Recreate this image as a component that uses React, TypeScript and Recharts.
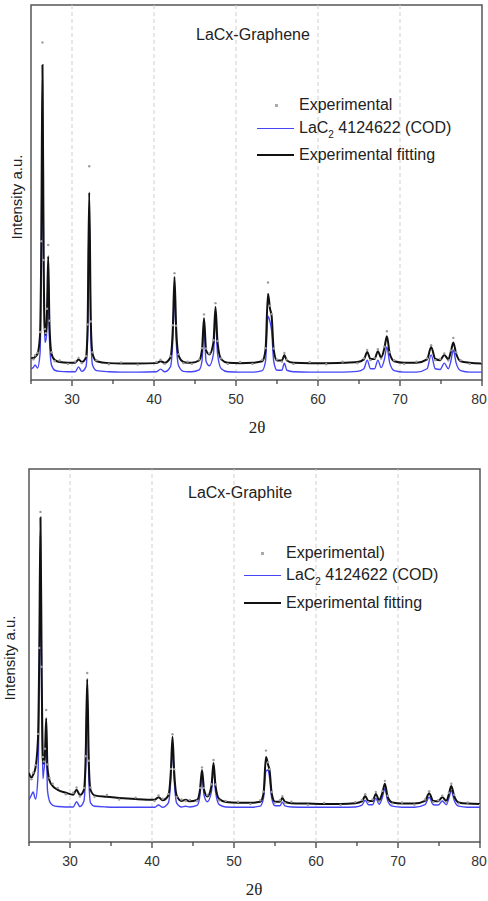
import React from "react";
import { ComposedChart, Line, Scatter, XAxis, YAxis, ReferenceLine, ReferenceArea } from "recharts";

// 2θ sampling shared by both patterns (degrees)
const theta = [
  25.0, 25.3, 25.5, 25.8, 26.1, 26.25, 26.4, 26.55, 26.7, 26.8,
  26.95, 27.1, 27.25, 27.5, 27.9, 28.5, 29.5, 30.4, 30.8, 31.2,
  31.7, 31.9, 32.1, 32.3, 32.5, 33.0, 34.5, 36.0, 38.0, 40.3,
  40.8, 41.3, 42.0, 42.3, 42.5, 42.7, 43.0, 43.6, 44.1, 44.6,
  45.5, 45.85, 46.1, 46.35, 46.75, 47.25, 47.5, 47.75, 48.2, 49.0,
  50.5, 52.0, 53.2, 53.6, 53.9, 54.15, 54.35, 54.6, 55.0, 55.6,
  55.9, 56.2, 57.0, 59.0, 61.0, 63.0, 64.8, 65.6, 66.0, 66.4,
  66.9, 67.3, 67.7, 68.1, 68.4, 68.75, 69.3, 70.5, 72.0, 73.3,
  73.8, 74.3, 74.9, 75.4, 75.9, 76.2, 76.5, 76.85, 77.4, 78.5, 80.0,
];

// LaCx-Graphene
const grapheneFit = [
  6.0, 5.8, 6.2, 7.0, 12, 35, 84, 30, 13, 12,
  18, 33, 15, 7.0, 5.3, 4.8, 4.6, 4.6, 5.5, 4.8,
  6.0, 14, 50, 15, 7.0, 5.0, 4.5, 4.4, 4.4, 4.5,
  5.0, 4.6, 6.0, 14, 27.5, 14, 6.5, 4.8, 4.6, 4.6,
  5.2, 8.0, 16.5, 8.0, 6.8, 10, 19.5, 10, 5.5, 4.6,
  4.5, 4.6, 5.0, 8.0, 23, 19, 17, 8.0, 5.2, 5.2,
  6.7, 5.2, 4.6, 4.5, 4.5, 4.6, 4.8, 5.5, 7.5, 5.6,
  5.6, 7.7, 6.0, 8.5, 11.7, 7.0, 5.0, 4.6, 4.6, 5.5,
  8.8, 5.6, 5.3, 6.7, 5.5, 7.5, 10, 7.0, 5.0, 4.6, 4.4,
];
const grapheneRef = [
  3.0, 3.4, 4.0, 3.2, 7.0, 30, 80, 25, 10, 10.5,
  14, 29, 11, 4.0, 2.6, 2.3, 2.2, 2.2, 3.5, 2.3,
  3.5, 11, 46, 12, 4.0, 2.5, 2.2, 2.1, 2.1, 2.2,
  2.9, 2.2, 3.5, 11, 24, 11, 3.8, 2.3, 2.2, 2.2,
  2.7, 5.0, 13.5, 5.0, 3.8, 7.0, 16.5, 7.0, 3.0, 2.2,
  2.1, 2.1, 2.5, 5.0, 17, 15.5, 13, 5.0, 2.6, 2.6,
  4.5, 2.6, 2.2, 2.1, 2.1, 2.1, 2.3, 3.0, 5.3, 3.0,
  3.0, 5.3, 3.3, 5.5, 8.8, 4.5, 2.5, 2.1, 2.1, 3.0,
  6.7, 3.0, 2.8, 4.5, 3.0, 5.0, 8.0, 4.5, 2.5, 2.1, 2.1,
];
const grapheneExp = [
  6.4, 5.5, 6.6, 7.3, 12.8, 37, 90, 32, 13.6, 12.5,
  19, 36, 15.8, 7.4, 5.0, 5.2, 4.3, 4.9, 5.9, 4.5,
  6.4, 14.8, 57, 15.6, 7.4, 5.3, 4.2, 4.7, 4.1, 4.8,
  5.4, 4.3, 6.4, 14.6, 28.5, 14.5, 6.9, 4.5, 4.9, 4.3,
  5.5, 8.5, 17.5, 8.4, 7.1, 10.6, 20.5, 10.4, 5.8, 4.3,
  4.8, 4.3, 5.4, 8.5, 26, 19.8, 17.6, 8.4, 5.5, 4.9,
  7.2, 5.5, 4.3, 4.8, 4.2, 4.9, 4.5, 5.8, 8.0, 5.3,
  5.9, 8.2, 5.7, 8.9, 13, 7.4, 5.3, 4.3, 4.9, 5.8,
  9.3, 5.3, 5.6, 7.1, 5.2, 7.9, 11.2, 7.4, 5.3, 4.3, 4.7,
];

// LaCx-Graphite
const graphiteFit = [
  18.5, 17.2, 18.0, 20, 28, 50, 87, 45, 22, 21,
  24, 33.2, 20, 16.5, 15.0, 14.0, 13.2, 12.7, 14.0, 12.6,
  14, 22, 43.7, 21, 14, 12.5, 12.1, 11.8, 11.5, 11.3,
  12, 11.2, 12.5, 19, 28.2, 19, 12.5, 11, 11.3, 10.9,
  11.3, 14, 19.3, 14, 12.2, 15, 21.2, 15, 11.5, 10.7,
  10.5, 10.5, 10.8, 13, 22.8, 20.8, 19, 13, 10.8, 10.8,
  11.8, 10.8, 10.4, 10.3, 10.2, 10.2, 10.4, 10.9, 12.3, 11,
  11, 12.9, 11.2, 13.2, 15.6, 12, 10.6, 10.3, 10.3, 11,
  13.1, 11, 10.9, 12, 11, 12.8, 15, 12.3, 10.6, 10.3, 10.2,
];
const graphiteRef = [
  11.3, 12.6, 13.4, 11.5, 18, 42, 82, 36, 17, 19,
  22, 28, 14, 11, 9.8, 9.5, 9.4, 9.4, 10.8, 9.5,
  11, 19, 40, 17, 10.5, 9.6, 9.4, 9.3, 9.3, 9.3,
  9.9, 9.3, 10.5, 17, 26, 17, 10.5, 9.4, 9.6, 9.4,
  9.8, 12.5, 18, 12.5, 10.8, 13.5, 19.8, 13.5, 10, 9.4,
  9.3, 9.3, 9.6, 11.8, 19, 19.3, 17, 11.8, 9.7, 9.7,
  10.7, 9.7, 9.4, 9.3, 9.3, 9.3, 9.4, 9.9, 11.2, 10,
  10, 11.7, 10.1, 12, 14.3, 11, 9.6, 9.3, 9.3, 10,
  12, 10, 9.9, 11, 10, 11.7, 13.8, 11.2, 9.6, 9.3, 9.3,
];
const graphiteExp = [
  19.2, 16.8, 18.6, 20.6, 29, 52, 88.5, 47, 22.8, 21.6,
  25, 35.4, 20.8, 17.2, 15.6, 14.5, 12.8, 13.2, 14.6, 12.2,
  14.5, 23, 45.3, 21.8, 14.6, 12.1, 12.6, 11.4, 11.9, 11.0,
  12.5, 11.6, 12.9, 19.6, 28.9, 19.5, 12.1, 11.4, 11.0, 11.3,
  11.0, 14.5, 20, 14.5, 12.6, 15.5, 22, 15.4, 11.1, 11.0,
  10.8, 10.2, 11.2, 13.5, 24.5, 21.4, 19.5, 13.4, 10.5, 11.2,
  12.3, 10.5, 10.8, 10.0, 10.5, 9.9, 10.7, 11.3, 12.8, 10.7,
  11.4, 13.4, 10.9, 13.7, 16.4, 12.4, 10.3, 10.6, 10.0, 11.4,
  13.6, 10.7, 11.2, 12.4, 10.7, 13.2, 15.6, 12.7, 10.3, 10.6, 9.9,
];

const xTicks = [25, 30, 35, 40, 45, 50, 55, 60, 65, 70, 75, 80];
const gridLines = [30, 40, 50, 60, 70];

const SANS = "'Liberation Sans', Arial, sans-serif";
const BLUE = "#4545f5";
const INK = "#222";

const AxisTick = (props: any) => {
  const { x, y, payload } = props;
  const v = payload.value;
  const major = v % 10 === 0;
  // keep the last label inside the page
  const tx = Math.min(x, 479);
  return (
    <g>
      <line x1={x} x2={x} y1={y} y2={y + (major ? 6 : 4)} stroke="#444" strokeWidth={1.3} />
      {major && v !== 25 && (
        <text x={tx} y={y + 19} textAnchor="middle" dominantBaseline="central" fontSize={14} fill="#333" fontFamily={SANS}>
          {v}
        </text>
      )}
    </g>
  );
};

const Dot = (props: any) => <circle cx={props.cx} cy={props.cy} r={1.2} fill="#9c9c9c" />;

interface PanelProps {
  top: number;
  height: number;
  margin: { top: number; right: number; left: number; bottom: number };
  axisHeight: number;
  title: string;
  titlePos: [number, number];
  yLabelPos: [number, number];
  xLabelPos: [number, number];
  expLabel: string;
  legendRows: [number, number, number];
  legendX: [number, number, number, number];
  fit: number[];
  ref: number[];
  exp: number[];
}

function Legend({ rows, xs, expLabel }: { rows: number[]; xs: number[]; expLabel: string }) {
  const [lineL, dotX, lineR, textL] = xs;
  const text: React.CSSProperties = { position: "absolute", left: textL, fontFamily: SANS, fontSize: 16, color: INK, lineHeight: "20px", whiteSpace: "nowrap" };
  return (
    <>
      <div style={{ position: "absolute", left: dotX - 1.5, top: rows[0] - 1.5, width: 3, height: 3, background: "#aaa" }} />
      <div style={{ ...text, top: rows[0] - 10 }}>{expLabel}</div>
      <div style={{ position: "absolute", left: lineL, top: rows[1] - 0.5, width: lineR - lineL, height: 1.2, background: BLUE }} />
      <div style={{ ...text, top: rows[1] - 10 }}>
        LaC<sub style={{ fontSize: 10, verticalAlign: "-5px" }}>2</sub> 4124622 (COD)
      </div>
      <div style={{ position: "absolute", left: lineL, top: rows[2] - 1, width: lineR - lineL, height: 2, background: "#111" }} />
      <div style={{ ...text, top: rows[2] - 10 }}>Experimental fitting</div>
    </>
  );
}

function Panel(p: PanelProps) {
  const rows = theta.map((t, i) => ({ theta: t, fit: p.fit[i], ref: p.ref[i], exp: p.exp[i] }));
  return (
    <div style={{ position: "absolute", left: 0, top: p.top, width: 488, height: p.height }}>
      <ComposedChart width={488} height={p.height} data={rows} margin={p.margin}>
        <XAxis
          dataKey="theta"
          type="number"
          domain={[25, 80]}
          ticks={xTicks}
          allowDataOverflow
          axisLine={false}
          tickLine={false}
          tickSize={0}
          tickMargin={0}
          height={p.axisHeight}
          tick={<AxisTick />}
          interval={0}
        />
        <YAxis hide type="number" domain={[0, 100]} allowDataOverflow />
        {gridLines.map((g) => (
          <ReferenceLine key={g} x={g} stroke="#cfcfcf" strokeDasharray="4 3" strokeWidth={1} />
        ))}
        <Scatter dataKey="exp" shape={<Dot />} isAnimationActive={false} />
        <Line dataKey="ref" type="monotone" stroke={BLUE} strokeWidth={1.4} dot={false} isAnimationActive={false} />
        <Line dataKey="fit" type="monotone" stroke="#111" strokeWidth={2} dot={false} isAnimationActive={false} />
        <ReferenceArea x1={25} x2={80} y1={0} y2={100} fill="none" stroke="#555" strokeWidth={1.5} />
      </ComposedChart>
      <div style={{ position: "absolute", left: p.titlePos[0], top: p.titlePos[1] - 10, fontFamily: SANS, fontSize: 16, color: INK, lineHeight: "20px", whiteSpace: "nowrap" }}>
        {p.title}
      </div>
      <div
        style={{
          position: "absolute",
          left: p.yLabelPos[0],
          top: p.yLabelPos[1],
          transform: "translate(-50%, -50%) rotate(-90deg)",
          fontFamily: SANS,
          fontSize: 15,
          color: INK,
          whiteSpace: "nowrap",
          lineHeight: "18px",
        }}
      >
        Intensity a.u.
      </div>
      <div
        style={{
          position: "absolute",
          left: p.xLabelPos[0],
          top: p.xLabelPos[1],
          transform: "translate(-50%, -50%)",
          fontFamily: "'Liberation Serif', 'Times New Roman', serif",
          fontSize: 17,
          color: INK,
          whiteSpace: "nowrap",
          lineHeight: "20px",
        }}
      >
        2θ
      </div>
      <Legend rows={p.legendRows} xs={p.legendX} expLabel={p.expLabel} />
    </div>
  );
}

export default function App() {
  return (
    <div style={{ position: "absolute", left: 0, top: 0, width: 488, height: 901, background: "#fff" }}>
      <Panel
        top={0}
        height={440}
        margin={{ top: 5, right: 6, left: 31, bottom: 0 }}
        axisHeight={60}
        title="LaCx-Graphene"
        titlePos={[196, 35]}
        yLabelPos={[17, 197]}
        xLabelPos={[257, 428]}
        expLabel="Experimental"
        legendRows={[105, 128, 155]}
        legendX={[257, 276, 294, 299]}
        fit={grapheneFit}
        ref={grapheneRef}
        exp={grapheneExp}
      />
      <Panel
        top={440}
        height={461}
        margin={{ top: 29, right: 8, left: 29, bottom: 0 }}
        axisHeight={59}
        title="LaCx-Graphite"
        titlePos={[188, 53]}
        yLabelPos={[10, 218]}
        xLabelPos={[254, 450]}
        expLabel="Experimental)"
        legendRows={[113, 135, 163]}
        legendX={[244, 262, 281, 286]}
        fit={graphiteFit}
        ref={graphiteRef}
        exp={graphiteExp}
      />
    </div>
  );
}
